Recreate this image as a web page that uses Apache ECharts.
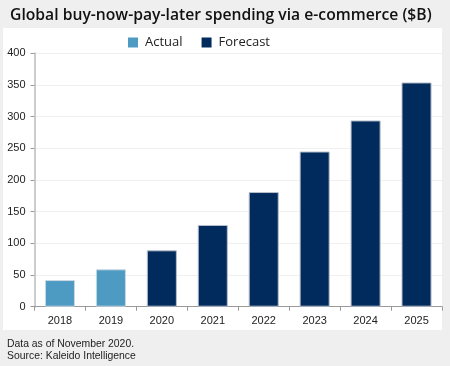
<!DOCTYPE html>
<html><head><meta charset="utf-8">
<script src="https://cdn.jsdelivr.net/npm/echarts@6/dist/echarts.min.js"></script>
<style>html,body{margin:0;padding:0;background:#efefef}#c{width:450px;height:366px}</style>
</head><body><div id="c"></div>
<script>
const categories = ['2018','2019','2020','2021','2022','2023','2024','2025'];
const actual = [42, 59, null, null, null, null, null, null];
const forecast = [null, null, 89, 129, 181, 245, 294, 354];
const yTicks = [0, 50, 100, 150, 200, 250, 300, 350, 400];

const chart = echarts.init(document.getElementById('c'));
chart.setOption({
  backgroundColor: '#efefef',
  animation: false,
  textStyle: { fontFamily: 'Liberation Sans, Arial, sans-serif' },
  title: {
    text: 'Global buy-now-pay-later spending via e-commerce ($B)',
    left: 5, top: 3,
    textStyle: { fontFamily: 'Open Sans', fontSize: 15.7, fontWeight: 600, color: '#111' }
  },
  graphic: [
    { type: 'rect', left: 3, top: 28, shape: { width: 439, height: 302 }, style: { fill: '#fff' }, z: -10 },
    { type: 'text', left: 7, top: 338, style: { text: 'Data as of November 2020.\nSource: Kaleido Intelligence', fill: '#222', font: '10.4px Liberation Sans, Arial, sans-serif', lineHeight: 12 } }
  ],
  legend: {
    left: 128, top: 36, padding: 0, itemWidth: 10, itemHeight: 10, itemGap: 19, icon: 'rect',
    itemStyle: { borderWidth: 0 },
    textStyle: { fontSize: 13, color: '#222', fontFamily: 'Open Sans', padding: [0, 0, 0, 2] },
    data: ['Actual', 'Forecast']
  },
  grid: { left: 34.5, right: 8, top: 53.3, bottom: 59.3, containLabel: false },
  xAxis: {
    type: 'category', data: categories,
    axisLine: { lineStyle: { color: '#999', width: 1 } },
    axisTick: { show: true, length: 4, lineStyle: { color: '#999' } },
    axisLabel: { color: '#222', fontSize: 11, margin: 9 }
  },
  yAxis: {
    type: 'value', min: 0, max: 400, interval: 50,
    axisLine: { show: true, lineStyle: { color: '#ccc', width: 2 } },
    axisTick: { show: true, length: 4, lineStyle: { color: '#999' } },
    axisLabel: { color: '#222', fontSize: 11, margin: 9 },
    splitLine: { lineStyle: { color: '#f0f0f0' } }
  },
  series: [
    { name: 'Actual', type: 'bar', stack: 's', data: actual, barWidth: '59%',
      itemStyle: { color: '#4d9ac2', borderColor: '#c8d8e4', borderWidth: 1 } },
    { name: 'Forecast', type: 'bar', stack: 's', data: forecast, barWidth: '59%',
      itemStyle: { color: '#002b5c', borderColor: '#b8bfcc', borderWidth: 1 } }
  ]
});
</script></body></html>
